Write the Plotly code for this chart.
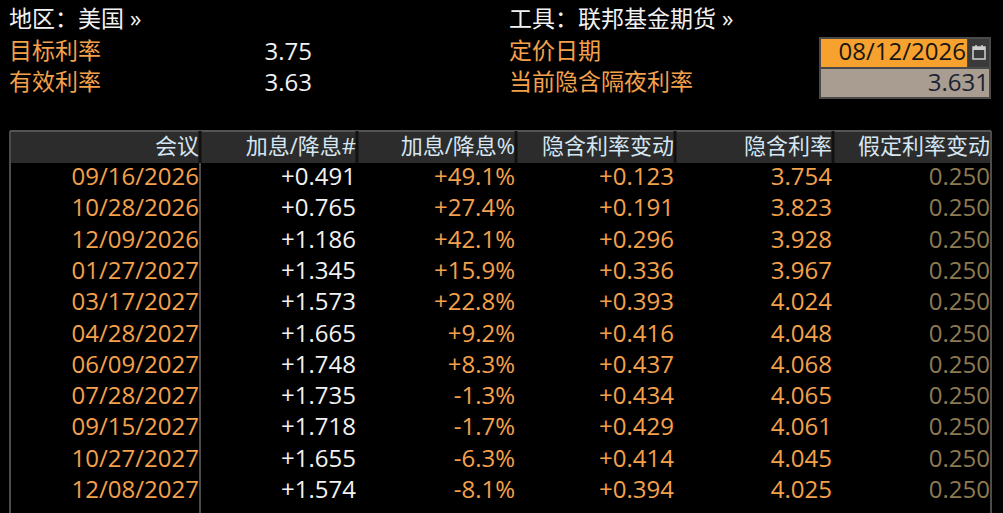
import plotly.graph_objects as go

# ---------------- data ----------------
region_label = "地区：美国 »"
instrument_label = "工具：联邦基金期货 »"
target_rate_label = "目标利率"
target_rate = 3.75
effective_rate_label = "有效利率"
effective_rate = 3.63
pricing_date_label = "定价日期"
pricing_date = "08/12/2026"
implied_overnight_label = "当前隐含隔夜利率"
implied_overnight = 3.631

headers = ["会议", "加息/降息#", "加息/降息%", "隐含利率变动", "隐含利率", "假定利率变动"]
meeting_dates = ["09/16/2026", "10/28/2026", "12/09/2026", "01/27/2027", "03/17/2027",
                 "04/28/2027", "06/09/2027", "07/28/2027", "09/15/2027", "10/27/2027",
                 "12/08/2027"]
hikes_count = [0.491, 0.765, 1.186, 1.345, 1.573, 1.665, 1.748, 1.735, 1.718, 1.655, 1.574]
hikes_pct = [49.1, 27.4, 42.1, 15.9, 22.8, 9.2, 8.3, -1.3, -1.7, -6.3, -8.1]
implied_change = [0.123, 0.191, 0.296, 0.336, 0.393, 0.416, 0.437, 0.434, 0.429, 0.414, 0.394]
implied_rate = [3.754, 3.823, 3.928, 3.967, 4.024, 4.048, 4.068, 4.065, 4.061, 4.045, 4.025]
assumed_change = [0.250, 0.250, 0.250, 0.250, 0.250, 0.250, 0.250, 0.250, 0.250, 0.250, 0.250]

# ---------------- styling / layout constants ----------------
W, H = 1003, 513
FONT = "Open Sans, Noto Sans CJK SC, sans-serif"
FS_NUM = 24
FS_CJK = 23
FS_HEAD = 22
ORANGE = "#f4a14c"
WHITE = "#f2f2f2"
HEAD_TXT = "#d6e6f2"
DIM = "#8c7a52"

TBL_L, TBL_R = 10, 991
HEAD_T, HEAD_B = 131, 163
col_edges = [TBL_L, 200, 357, 516, 675, 833, TBL_R]
col_right_text = [e - 1 for e in col_edges[1:]]
DY = 1.5                      # vertical text nudge
ROW0, ROW_H = 177.5, 31.3
HEAD_Y = 147

col_colors = [ORANGE, WHITE, ORANGE, ORANGE, ORANGE, DIM]

columns = [
    meeting_dates,
    [f"{v:+.3f}" for v in hikes_count],
    [f"{v:+.1f}%" for v in hikes_pct],
    [f"{v:+.3f}" for v in implied_change],
    [f"{v:.3f}" for v in implied_rate],
    [f"{v:.3f}" for v in assumed_change],
]

fig = go.Figure()


def text_trace(xs, ys, texts, color, pos="middle left", size=FS_NUM):
    fig.add_trace(go.Scatter(
        x=xs, y=[y + DY for y in ys],
        text=texts, mode="text", textposition=pos,
        textfont=dict(family=FONT, size=size, color=color),
        hoverinfo="skip", showlegend=False, cliponaxis=False))


# table body
for ci, col in enumerate(columns):
    ys = [ROW0 + i * ROW_H for i in range(len(col))]
    text_trace([col_right_text[ci]] * len(col), ys, col, col_colors[ci])

# header texts
text_trace(col_right_text, [HEAD_Y] * len(headers), headers, HEAD_TXT, size=FS_HEAD)

# top info block
text_trace([9], [20], [region_label], WHITE, "middle right", FS_CJK)
text_trace([509], [20], [instrument_label], WHITE, "middle right", FS_CJK)
text_trace([9, 9], [52, 83], [target_rate_label, effective_rate_label], ORANGE, "middle right", FS_CJK)
text_trace([312, 312], [52, 83], [f"{target_rate:.2f}", f"{effective_rate:.2f}"], WHITE)
text_trace([509, 509], [52, 83], [pricing_date_label, implied_overnight_label], ORANGE, "middle right", FS_CJK)
text_trace([966], [52], [pricing_date], "#161616")
text_trace([989], [83], [f"{implied_overnight:.3f}"], "#1a2233")

shapes = []
# header band
shapes.append(dict(type="rect", x0=TBL_L, x1=TBL_R, y0=HEAD_T, y1=HEAD_B,
                   fillcolor="#2c2c2c", line=dict(width=0), layer="below"))
shapes.append(dict(type="line", x0=TBL_L, x1=TBL_R, y0=HEAD_T, y1=HEAD_T,
                   line=dict(color="#555555", width=2), layer="below"))
for e in col_edges[1:-1]:
    shapes.append(dict(type="line", x0=e, x1=e, y0=HEAD_T, y1=HEAD_B,
                       line=dict(color="#111111", width=3), layer="below"))
# body borders
for e in (TBL_L, 200, TBL_R):
    y0 = HEAD_T if e != 200 else HEAD_B
    shapes.append(dict(type="line", x0=e, x1=e, y0=y0, y1=H,
                       line=dict(color="#4c4c4c", width=2), layer="below"))
# input boxes
shapes.append(dict(type="rect", x0=819, x1=991, y0=37, y1=99,
                   fillcolor="#4a4a4a", line=dict(width=0), layer="below"))
shapes.append(dict(type="rect", x0=821, x1=967, y0=39, y1=67,
                   fillcolor="#f7a12e", line=dict(width=0), layer="below"))
shapes.append(dict(type="rect", x0=968, x1=989, y0=39, y1=67,
                   fillcolor="#3a3a3a", line=dict(width=0), layer="below"))
shapes.append(dict(type="rect", x0=821, x1=989, y0=69, y1=97,
                   fillcolor="#a99d91", line=dict(width=0), layer="below"))
# calendar icon
shapes.append(dict(type="rect", x0=973, x1=985, y0=47, y1=59,
                   fillcolor="rgba(0,0,0,0)", line=dict(color="#cfcfcf", width=1.5)))
shapes.append(dict(type="rect", x0=973, x1=985, y0=47, y1=50,
                   fillcolor="#cfcfcf", line=dict(width=0)))
for x in (976, 982):
    shapes.append(dict(type="line", x0=x, x1=x, y0=45, y1=48,
                       line=dict(color="#cfcfcf", width=1.5)))

fig.update_layout(
    width=W, height=H,
    margin=dict(l=0, r=0, t=0, b=0),
    paper_bgcolor="#000000", plot_bgcolor="#000000",
    xaxis=dict(range=[0, W], visible=False, fixedrange=True),
    yaxis=dict(range=[H, 0], visible=False, fixedrange=True),
    shapes=shapes,
)

fig.write_html("out.html", config={"displayModeBar": False},
               post_script="document.body.style.margin='0';document.body.style.background='#000';")
